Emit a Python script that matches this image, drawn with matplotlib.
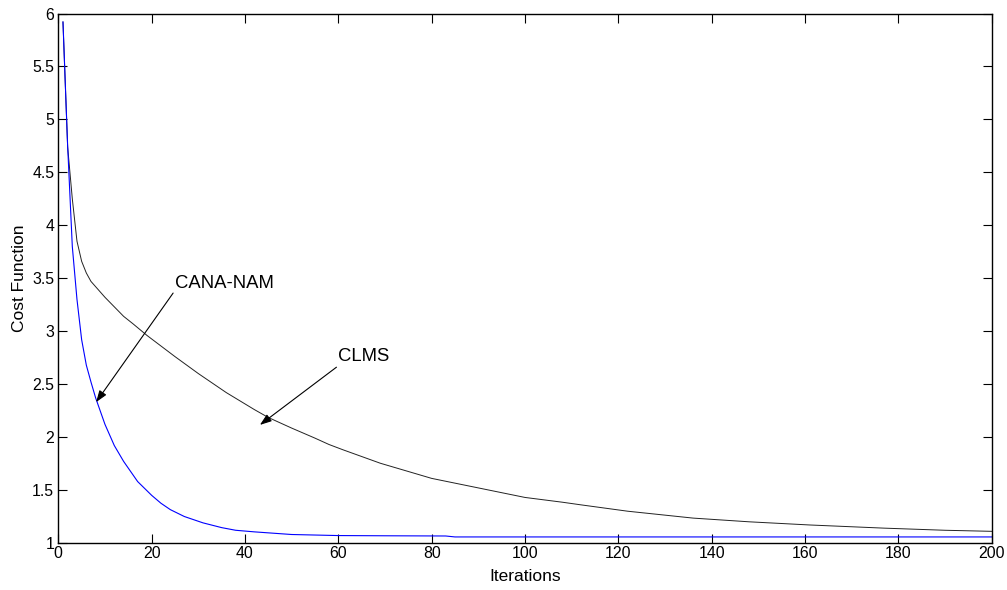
import matplotlib
matplotlib.use("Agg")
import matplotlib.pyplot as plt

plt.rcParams['font.family'] = ['Liberation Sans', 'DejaVu Sans']

# CLMS cost function per iteration
clms_iter = [1, 2, 3, 4, 5, 6, 7, 8, 10, 12, 14, 16, 19, 22, 25, 30, 36, 42,
             45, 50, 55, 58, 61, 69, 80, 90, 100, 108, 112, 122, 136, 148,
             161, 177, 190, 200]
clms_cost = [5.92, 4.74, 4.25, 3.85, 3.66, 3.55, 3.47, 3.42, 3.32, 3.23, 3.14,
             3.07, 2.96, 2.86, 2.76, 2.60, 2.42, 2.26, 2.185, 2.085, 1.99,
             1.93, 1.88, 1.753, 1.61, 1.52, 1.43, 1.385, 1.36, 1.30, 1.235,
             1.20, 1.17, 1.14, 1.12, 1.11]

# CANA-NAM cost function per iteration
cana_iter = [1, 2, 3, 4, 5, 6, 7, 8, 10, 12, 14, 17, 20, 22, 24, 27, 31, 35,
             38, 42, 50, 60, 70, 83, 85, 200]
cana_cost = [5.92, 4.75, 3.80, 3.30, 2.92, 2.68, 2.52, 2.37, 2.12, 1.92, 1.77,
             1.58, 1.45, 1.375, 1.315, 1.25, 1.19, 1.145, 1.12, 1.105, 1.08,
             1.07, 1.068, 1.066, 1.057, 1.057]

x_ticks = list(range(0, 201, 20))
y_ticks = [1, 1.5, 2, 2.5, 3, 3.5, 4, 4.5, 5, 5.5, 6]
y_tick_labels = ['1', '1.5', '2', '2.5', '3', '3.5', '4', '4.5', '5', '5.5', '6']

fig = plt.figure(figsize=(10.07, 5.90), dpi=100)
ax = fig.add_axes([0.0579, 0.0797, 0.9269, 0.8974])

ax.plot(clms_iter, clms_cost, color='#222222', lw=0.7)
ax.plot(cana_iter, cana_cost, color='#0000ff', lw=0.8)

ax.set_xlim(0, 200)
ax.set_ylim(1, 6)
ax.set_xticks(x_ticks)
ax.set_yticks(y_ticks)
ax.set_yticklabels(y_tick_labels)
ax.tick_params(direction='in', length=6.5, width=0.8, top=True, right=True,
               labelsize=11.4)
ax.tick_params(axis='x', pad=2.5)
ax.tick_params(axis='y', pad=3)
for s in ax.spines.values():
    s.set_linewidth(1.0)

ax.set_xlabel('Iterations', fontsize=12.5, labelpad=5.5)
ax.set_ylabel('Cost Function', fontsize=12.5, labelpad=4)

arrow = dict(arrowstyle='-|>,head_length=0.7,head_width=0.25', color='black',
             lw=0.8, shrinkA=0, shrinkB=0)
ax.annotate('', xy=(8.1, 2.33), xytext=(24.6, 3.36), arrowprops=arrow)
ax.text(25.0, 3.455, 'CANA-NAM', fontsize=13.3, va='center', ha='left')
ax.annotate('', xy=(43.2, 2.115), xytext=(59.6, 2.66), arrowprops=arrow)
ax.text(60.0, 2.76, 'CLMS', fontsize=13.3, va='center', ha='left')

fig.savefig('out.png', dpi=100)
